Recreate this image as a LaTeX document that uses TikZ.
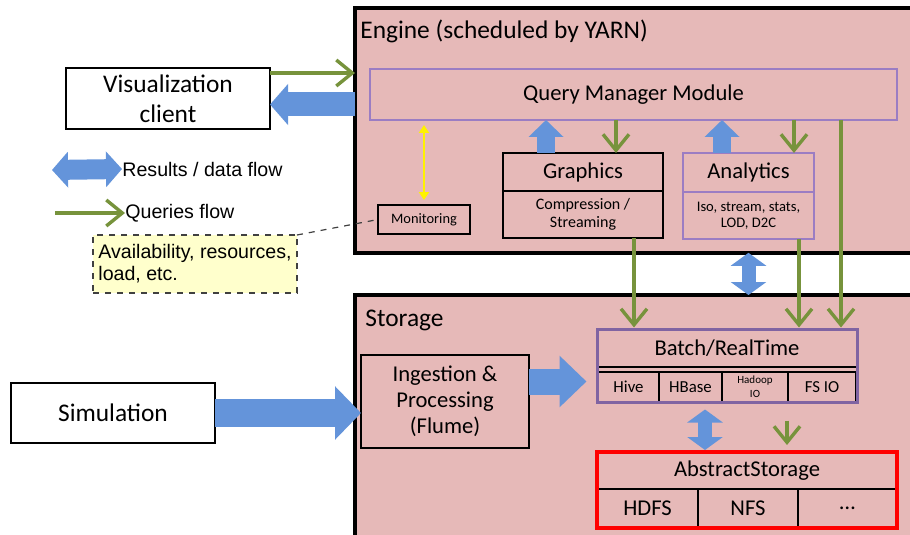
\documentclass[tikz,border=0pt]{standalone}
\usepackage{fontspec}
\setmainfont{Carlito}
\newfontfamily\arialfont{Liberation Sans}
\usetikzlibrary{positioning, fit, arrows.meta}
\definecolor{pinkbg}{RGB}{230,185,184}
\definecolor{framepurple}{RGB}{128,100,162}
\definecolor{lightpurple}{RGB}{155,125,195}
\definecolor{flowgreen}{RGB}{119,147,60}
\definecolor{flowblue}{RGB}{100,148,218}
\definecolor{noteyellow}{RGB}{255,255,204}

\begin{document}
\begin{tikzpicture}[x=0.5pt, y=-0.5pt,
    every node/.style={inner sep=0pt},
    area/.style={fill=pinkbg, anchor=north west, minimum width=277.5pt},
    box/.style={draw, line width=0.6pt, outer sep=0pt, align=center},
    big/.style={font=\fontsize{12.7}{15}\selectfont},
    mid/.style={font=\fontsize{11.3}{13}\selectfont},
    small/.style={font=\fontsize{8}{9}\selectfont},
    legend/.style={font=\arialfont\fontsize{9.8}{11}\selectfont},
    queries/.style={draw=flowgreen, line width=1.7pt, -{Straight Barb[length=8pt,width=13pt]}},
    results/.style n args={3}{draw=flowblue, line width=#1, -{Triangle[length=#2,width=#3]}},
    results both/.style n args={3}{draw=flowblue, line width=#1, {Triangle[length=#2,width=#3]}-{Triangle[length=#2,width=#3]}},
    monitor/.style={draw=yellow, line width=1pt, shorten <=2.5pt, shorten >=2.5pt, {Triangle[length=4pt,width=5pt]}-{Triangle[length=4pt,width=5pt]}}]

    \useasboundingbox (0,0) rectangle (910,535);

    \node[area, minimum height=122pt] (box engine) at (355,8) {};
    \node[area, minimum height=120pt] (box store) at (355,295) {};
    \draw[line width=2pt] (box engine.north east) -| (box engine.south west) -- (box engine.south east);
    \draw[line width=2pt] (box store.north east) -| (box store.south west);
    \node[big, anchor=west] (title engine) at (360,31) {Engine (scheduled by YARN)};
    \node[big, anchor=west] (title store) at (365,320) {Storage};

    \node[box, big, fill=white, minimum width=102pt, minimum height=30.5pt] (box viz) at (168,98.5) {Visualization\\client};
    \node[box, big, fill=white, minimum width=102pt, minimum height=30pt] (box sim) at (113,413) {Simulation};

    \node[box, mid, draw=lightpurple, minimum width=263.5pt, minimum height=25.5pt] (box qmm) at (633.5,94.5) {Query Manager Module};
    \node[box, font=\fontsize{7.2}{8}\selectfont, minimum width=46pt, minimum height=14.5pt] (box mon) at (424,219.5) {Monitoring};
    \node[box, mid, minimum width=80pt, minimum height=19pt] (box gfx) at (583,172) {Graphics};
    \node[box, small, minimum width=80pt, minimum height=23.5pt, below=0pt of box gfx] (box gfx 1) {Compression /\\Streaming};
    \node[box, mid, draw=lightpurple, minimum width=65.5pt, minimum height=19.5pt] (box ana) at (748.5,172.5) {Analytics};
    \node[box, font=\fontsize{7.3}{8}\selectfont, draw=lightpurple, minimum width=65.5pt, minimum height=23.5pt, below=0pt of box ana] (box ana 1) {Iso, stream, stats,\\LOD, D2C};

    \node[box, mid, minimum width=84pt, minimum height=46.5pt] (box ing) at (445,401.5) {Ingestion \&\\Processing\\(Flume)};

    \node[box, mid, minimum width=130pt, minimum height=19pt] (box batch 0) at (727,348) {Batch/RealTime};
    \node[box, font=\fontsize{8.4}{9}\selectfont, minimum width=30.5pt, minimum height=15pt] (box batch 1) at (628.5,387) {Hive};
    \node[box, font=\fontsize{8.4}{9}\selectfont, minimum width=31.5pt, minimum height=15pt, right=0pt of box batch 1] (box batch 2) {HBase};
    \node[box, font=\fontsize{5.5}{7}\selectfont, minimum width=33pt, minimum height=15pt, right=0pt of box batch 2] (box batch 3) {Hadoop\\IO};
    \node[box, font=\fontsize{8.4}{9}\selectfont, minimum width=34pt, minimum height=15pt, right=0pt of box batch 3] (box batch 4) {FS IO};
    \node[draw=framepurple, line width=1.5pt, inner sep=0pt, fit=(box batch 0)(box batch 4)] (box batch) {};

    \node[box, mid, minimum width=150pt, minimum height=18.5pt] (box abs 0) at (747,470.5) {AbstractStorage};
    \node[box, mid, minimum width=50.5pt, minimum height=19.5pt, below=0pt of box abs 0.south west, anchor=north west] (box abs 1) {HDFS};
    \node[box, mid, minimum width=50pt, minimum height=19.5pt, right=0pt of box abs 1] (box abs 2) {NFS};
    \node[box, mid, minimum width=49.5pt, minimum height=19.5pt, right=0pt of box abs 2] (box abs 3) {\ldots};
    \node[draw=red, line width=2pt, inner sep=0pt, fit=(box abs 0)(box abs 3)] (box abs) {};

    \node[legend, anchor=west] (leg 1) at (122,169) {Results / data flow};
    \node[legend, anchor=west] (leg 2) at (125,213) {Queries flow};
    \coordinate (leg 1 start) at (52,170);
    \coordinate (leg 2 start) at (55,213);
    \node[box, legend, draw=darkgray, dashed, fill=noteyellow, align=left, minimum width=102pt, minimum height=29pt] (box note) at (195,264) {Availability, resources,\\load, etc.};

    \draw[results both={10pt}{8pt}{17.5pt}] (leg 1 start) -- (leg 1.west);
    \draw[queries] (leg 2 start) -- (leg 2.west);
    \draw[dashed, darkgray, line width=0.6pt] (box note.north east) -- (box mon.west);
    \draw[monitor] (box mon.north |- box qmm.south) -- (box mon.north);

    \draw[queries] ([yshift=-2.5pt]box viz.north east) -- ([yshift=-2.5pt]box viz.north east -| box engine.west);
    \draw[results={12pt}{9pt}{20pt}] ([yshift=-3pt]box viz.east -| box engine.west) -- ([yshift=-3pt]box viz.east);
    \draw[results={14pt}{13pt}{26pt}] (box sim.east) -- (box sim.east -| box ing.west);
    \draw[results={13pt}{13.5pt}{25pt}, shorten >=4.5pt] ([yshift=10pt]box ing.east) -- ([yshift=10pt]box ing.east -| box batch.west);

    \foreach \b/\u/\d in {gfx/-18.5/16.5, ana/-13.25/22.75} {
        \draw[results={9pt}{8.5pt}{17pt}] ([xshift=\u pt]box \b.north) -- ([xshift=\u pt]box \b.north |- box qmm.south);
        \draw[queries] ([xshift=\d pt]box \b.north |- box qmm.south) -- ([xshift=\d pt]box \b.north);
    }
    \foreach \b/\s in {gfx 1/25.5, ana 1/25.25}
    \draw[queries] ([xshift=\s pt]box \b.south) -- ([xshift=\s pt]box \b.south |- box batch.north);
    \draw[queries] ([xshift=-28pt]box qmm.south east) -- ([xshift=-28pt]box qmm.south east |- box batch.north);

    \draw[results both={7pt}{6.5pt}{17.5pt}] (box engine.south -| box ana) -- (box store.north -| box ana);
    \draw[results both={7pt}{6.5pt}{17.5pt}, shorten <=3pt] ([xshift=3.5pt]box batch.south -| box abs 1.east) -- ([xshift=3.5pt]box abs.north -| box abs 1.east);
    \draw[queries, shorten >=2.5pt] ([xshift=30pt,yshift=-8.5pt]box batch.south) -- ([xshift=30pt]box batch.south |- box abs.north);
\end{tikzpicture}
\end{document}
